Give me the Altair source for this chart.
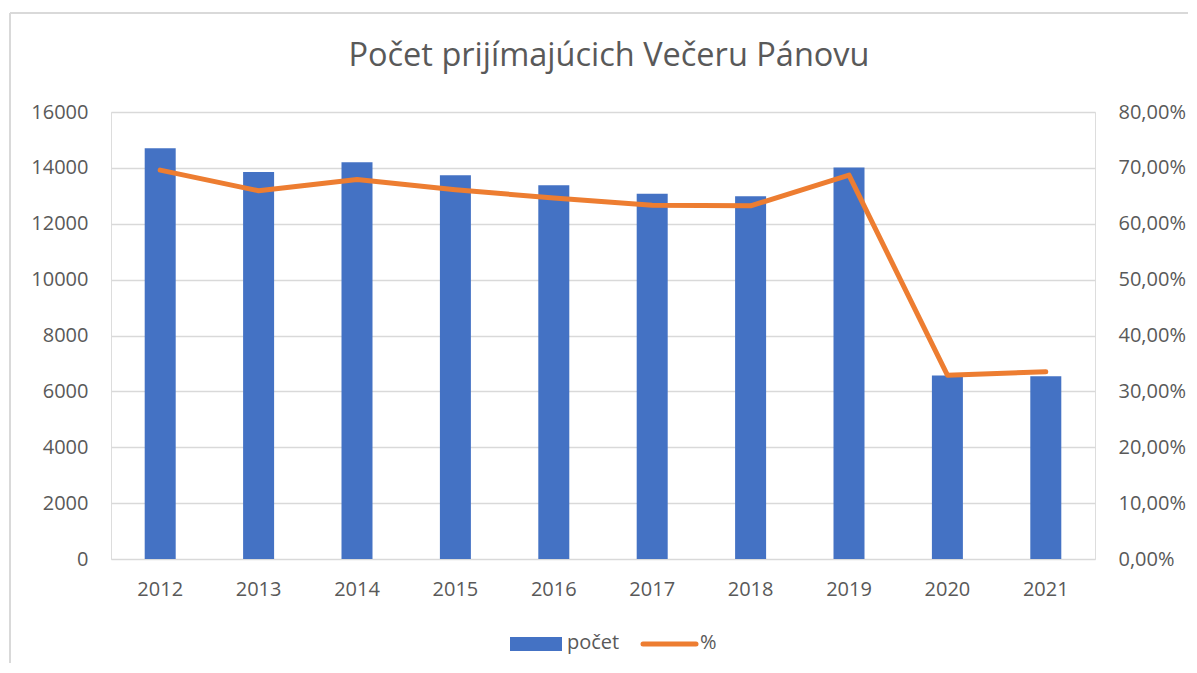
import altair as alt
import pandas as pd

years = ["2012", "2013", "2014", "2015", "2016", "2017", "2018", "2019", "2020", "2021"]
pocet = [14700, 13850, 14200, 13740, 13380, 13070, 12980, 14010, 6570, 6540]
percent = [0.696, 0.659, 0.679, 0.661, 0.646, 0.633, 0.632, 0.687, 0.329, 0.335]
series_names = ["počet", "%"]
title_text = ["Počet prijímajúcich Večeru Pánovu"]

BLUE = "#4472C4"
ORANGE = "#ED7D31"
TEXT = "#595959"
GRID = "#D9D9D9"
FONT = "Open Sans"

df = pd.DataFrame({"rok": years, "pocet": pocet, "pct": percent})

W, H = 984, 447

x_enc = alt.X(
    "rok:N",
    sort=years,
    scale=alt.Scale(paddingInner=0, paddingOuter=0),
    axis=alt.Axis(title=None, labelAngle=0, domain=False, ticks=False,
                  labelPadding=20, labelFontSize=20, labelColor=TEXT,
                  labelFont=FONT, grid=False),
)

bars = alt.Chart(df).mark_bar(size=31, color=BLUE).encode(
    x=x_enc,
    y=alt.Y("pocet:Q",
            scale=alt.Scale(domain=[0, 16000], nice=False),
            axis=alt.Axis(title=None, values=list(range(0, 16001, 2000)),
                          format="d",
                          domain=False, ticks=False, labelPadding=23,
                          labelFontSize=20, labelColor=TEXT, labelFont=FONT,
                          grid=True, gridColor=GRID, gridWidth=1.3)),
)

line = alt.Chart(df).mark_line(color=ORANGE, strokeWidth=5, strokeCap="round",
                               strokeJoin="round").encode(
    x=alt.X("rok:N", sort=years),
    y=alt.Y("pct:Q",
            scale=alt.Scale(domain=[0, 0.8], nice=False),
            axis=alt.Axis(title=None, orient="right",
                          values=[i / 10 for i in range(0, 9)],
                          labelExpr="replace(format(datum.value, '.2%'), '.', ',')",
                          domain=False, ticks=False, labelPadding=23,
                          labelFontSize=20, labelColor=TEXT, labelFont=FONT,
                          grid=False)),
)

leg_bar_df = pd.DataFrame({"name": [series_names[0]]})
leg_line_df = pd.DataFrame({"name": [series_names[1]]})
title_df = pd.DataFrame({"t": title_text})

leg_rect = alt.Chart(leg_bar_df).mark_rect(color=BLUE).encode(
    x=alt.value(399), x2=alt.value(451), y=alt.value(525), y2=alt.value(539))
leg_rect_text = alt.Chart(leg_bar_df).mark_text(
    align="left", baseline="middle", fontSize=20, font=FONT, color=TEXT).encode(
    x=alt.value(456), y=alt.value(531), text="name:N")
leg_line = alt.Chart(leg_line_df).mark_rule(color=ORANGE, strokeWidth=5,
                                            strokeCap="round").encode(
    x=alt.value(532), x2=alt.value(585), y=alt.value(532))
leg_line_text = alt.Chart(leg_line_df).mark_text(
    align="left", baseline="middle", fontSize=20, font=FONT, color=TEXT).encode(
    x=alt.value(589), y=alt.value(531), text="name:N")

title_mark = alt.Chart(title_df).mark_text(
    align="center", baseline="alphabetic", fontSize=32.5, font=FONT, color=TEXT).encode(
    x=alt.value(498), y=alt.value(-46), text="t:N")

border_top = alt.Chart(leg_bar_df).mark_rule(color=GRID, strokeWidth=2).encode(
    x=alt.value(-101), x2=alt.value(1100), y=alt.value(-99))
border_left = alt.Chart(leg_bar_df).mark_rule(color=GRID, strokeWidth=2).encode(
    x=alt.value(-101), y=alt.value(-99), y2=alt.value(600))

main = alt.layer(bars, line).resolve_scale(y="independent")

chart = alt.layer(
    main, leg_rect, leg_rect_text, leg_line, leg_line_text, title_mark,
    border_top, border_left
).properties(
    width=W,
    height=H,
    autosize=alt.AutoSizeParams(type="none"),
    padding={"left": 103, "top": 104, "right": 93, "bottom": 104},
).configure_view(stroke=None).configure(background="white")

chart.save("out.html", embed_options={"renderer": "svg", "actions": False})
